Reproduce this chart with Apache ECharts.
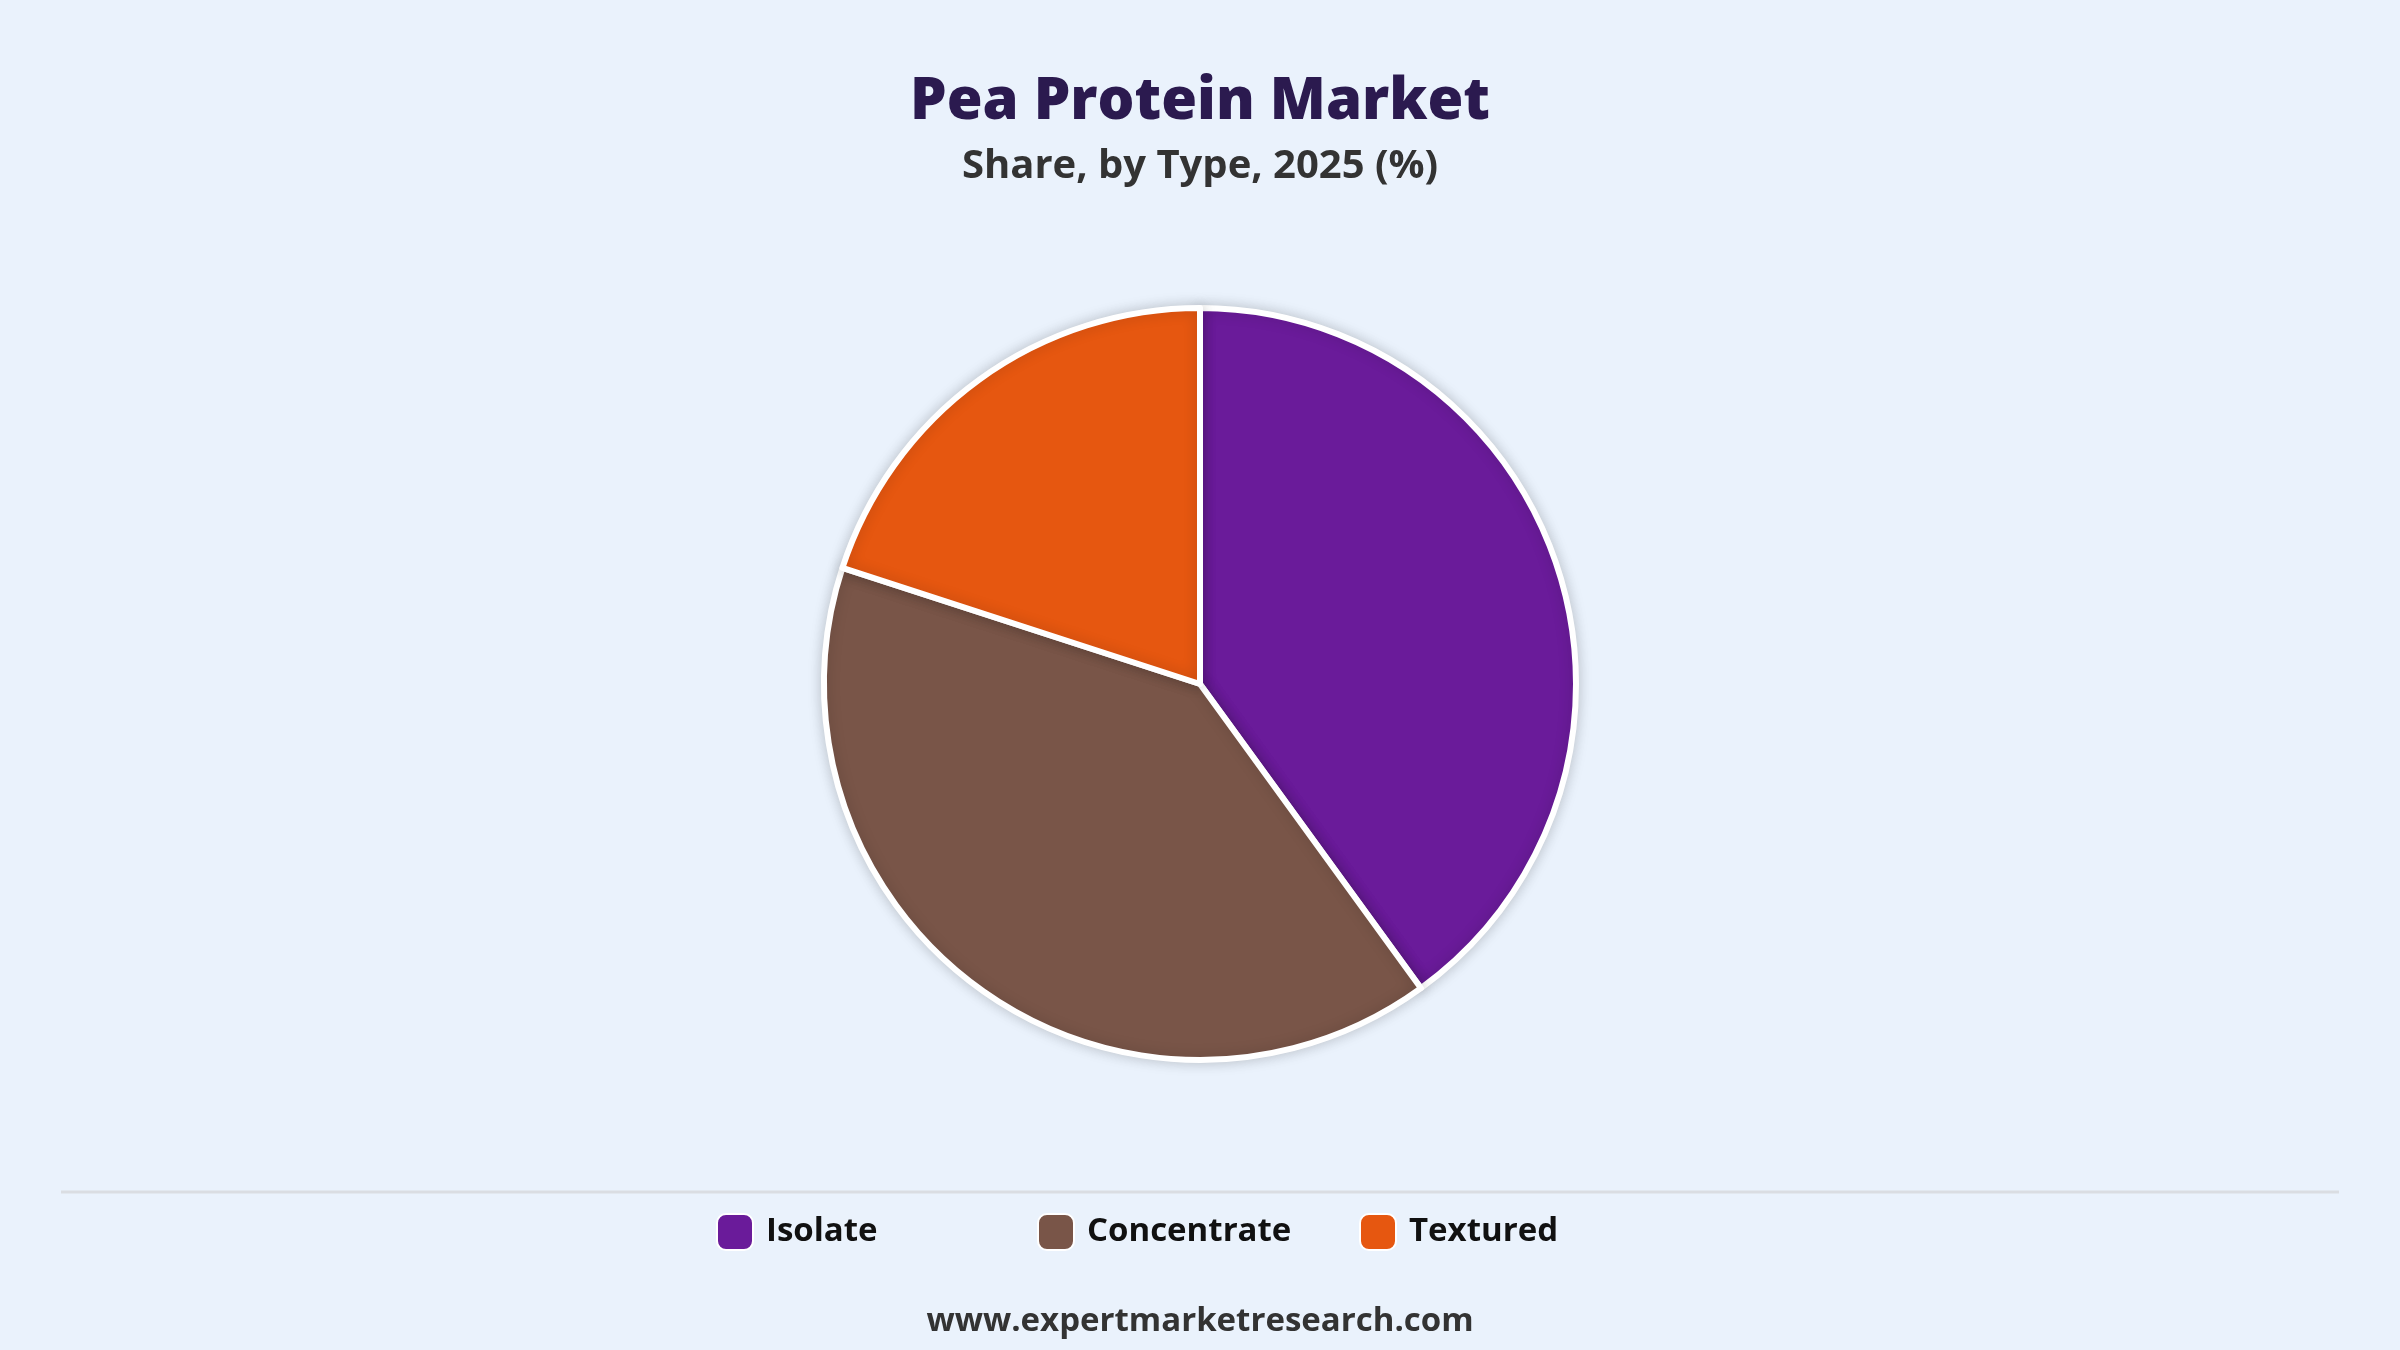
<!DOCTYPE html>
<html>
<head>
<meta charset="utf-8">
<script src="https://cdn.jsdelivr.net/npm/echarts@6/dist/echarts.min.js"></script>
<style>
  html, body { margin: 0; padding: 0; background: #eaf2fc; }
  #chart { width: 2400px; height: 1350px; }
</style>
</head>
<body>
<div id="chart"></div>
<script>
// data
const types = ['Isolate', 'Concentrate', 'Textured'];
const shares = [40, 40, 20];
const colors = ['#6a1b9a', '#795548', '#e65710'];
// left edge of each legend entry (equal-width slots in the reference)
const legendLefts = [711, 1032, 1354];

const font = '"Open Sans", "Noto Sans", sans-serif';

const chart = echarts.init(document.getElementById('chart'), null, { renderer: 'canvas' });

chart.setOption({
  backgroundColor: '#eaf2fc',
  animation: false,
  title: [
    {
      text: 'Pea Protein Market',
      left: 'center',
      top: 68,
      textStyle: { fontFamily: font, fontWeight: 800, fontSize: 58, color: '#2b1a4f' }
    },
    {
      text: 'Share, by Type, 2025 (%)',
      left: 'center',
      top: 142,
      textStyle: { fontFamily: font, fontWeight: 700, fontSize: 40, color: '#333333' }
    },
    {
      text: 'www.expertmarketresearch.com',
      left: 'center',
      top: 1300,
      textStyle: { fontFamily: font, fontWeight: 700, fontSize: 33, color: '#333333' }
    }
  ],
  legend: types.map((name, i) => ({
    left: legendLefts[i],
    top: 1208,
    icon: 'roundRect',
    itemWidth: 36,
    itemHeight: 36,
    selectedMode: false,
    data: [name],
    textStyle: {
      fontFamily: font,
      fontWeight: 700,
      fontSize: 33,
      color: '#111111',
      padding: [0, 0, 0, 8]
    }
  })),
  graphic: [
    {
      type: 'line',
      shape: { x1: 61, y1: 1192, x2: 2339, y2: 1192 },
      style: { stroke: '#dadde2', lineWidth: 3 }
    }
  ],
  series: [
    {
      type: 'pie',
      center: ['50%', 684],
      radius: 376,
      startAngle: 90,
      clockwise: true,
      label: { show: false },
      labelLine: { show: false },
      emphasis: { disabled: true },
      itemStyle: {
        borderColor: '#ffffff',
        borderWidth: 6,
        shadowBlur: 14,
        shadowColor: 'rgba(0, 0, 0, 0.18)'
      },
      data: types.map((name, i) => ({
        name: name,
        value: shares[i],
        itemStyle: { color: colors[i] }
      }))
    }
  ]
});
</script>
</body>
</html>
